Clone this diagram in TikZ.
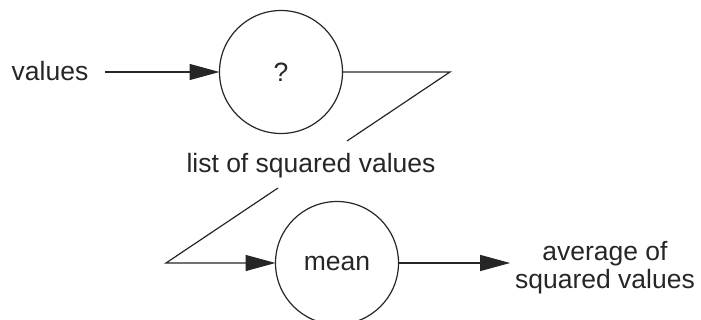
\documentclass[tikz,border=0pt]{standalone}
\usepackage{fontspec}
\setmainfont{Liberation Sans}
\usetikzlibrary{arrows.meta}
\begin{document}
\begin{tikzpicture}[x=1pt,y=-1pt,
  every node/.style={font=\fontsize{26.5}{28}\selectfont, text=black!85, inner sep=0pt, outer sep=0pt},
  proc/.style={draw=black!85, line width=1.2pt, circle, minimum size=123pt, inner sep=0pt},
  wire/.style={draw=black!85, line width=1.2pt, line join=miter},
  arr/.style={wire, -{Triangle[length=30pt,width=16pt]}}]
\useasboundingbox (0,0) rectangle (701,320);
\node[anchor=base] (values) at (50,81) {values};
\node[proc] (q) at (281,72) {?};
\node[anchor=base] (list) at (311,173) {list of squared values};
\node[proc] (mean) at (337,263) {mean};
\node[align=center] (avg) at (605,268) {average of\\squared values};
\coordinate (v0) at (105,72);
\coordinate (c1) at (450,72);
\coordinate (c2) at (347,141);
\coordinate (c3) at (278,188);
\coordinate (c4) at (166,263);
\draw[arr] (v0) -- (q.west);
\draw[wire] (q.east) -- (c1) -- (c2);
\draw[arr] (c3) -- (c4) -- (mean.west);
\draw[arr, shorten >=5pt] (mean.east) -- (avg.west |- mean.east);
\end{tikzpicture}
\end{document}
